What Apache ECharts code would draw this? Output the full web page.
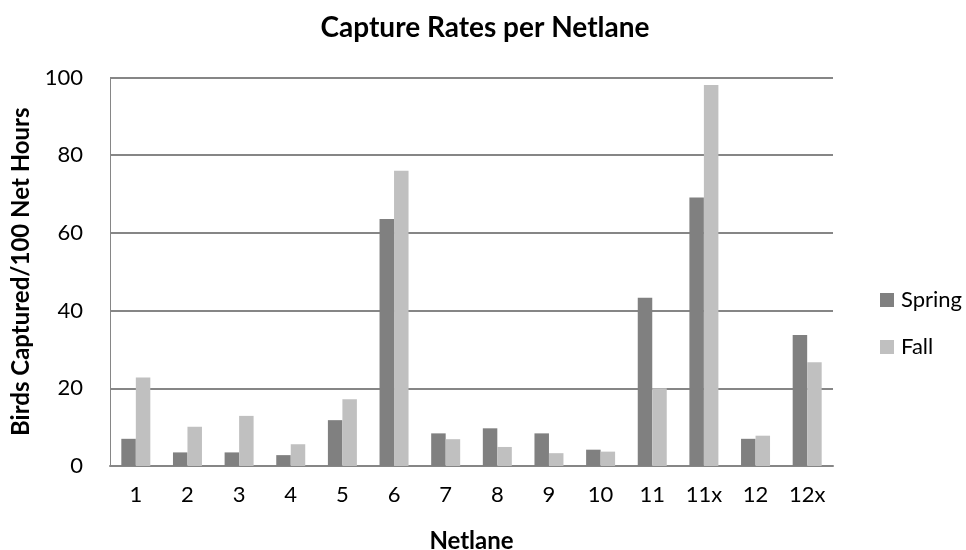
<!DOCTYPE html>
<html>
<head>
<meta charset="utf-8">
<script src="https://cdn.jsdelivr.net/npm/echarts@6/dist/echarts.min.js"></script>
<style>html,body{margin:0;padding:0;background:#fff;}#c{width:966px;height:550px;}</style>
</head>
<body>
<div id="c"></div>
<script>
const categories = ['1','2','3','4','5','6','7','8','9','10','11','11x','12','12x'];
const spring = [7.0, 3.5, 3.5, 2.8, 11.8, 63.6, 8.4, 9.7, 8.4, 4.2, 43.3, 69.1, 7.0, 33.7];
const fall = [22.8, 10.1, 12.9, 5.6, 17.2, 76.0, 6.9, 4.9, 3.3, 3.7, 20.0, 98.1, 7.8, 26.7];
const yTicks = [0, 20, 40, 60, 80, 100];

const FONT = 'Lato, "Open Sans", sans-serif';
const chart = echarts.init(document.getElementById('c'));
chart.setOption({
  animation: false,
  backgroundColor: '#fff',
  textStyle: { fontFamily: FONT, color: '#000' },
  title: {
    text: 'Capture Rates per Netlane',
    left: 480, top: 9, textAlign: 'center',
    textStyle: { fontFamily: FONT, fontSize: 28, fontWeight: 'bold', color: '#000' }
  },
  legend: {
    orient: 'vertical',
    left: 875, top: 284,
    itemWidth: 14, itemHeight: 14, itemGap: 25,
    icon: 'rect',
    textStyle: { fontFamily: FONT, fontSize: 22, color: '#000', padding: [0, 0, 0, 2] },
    data: ['Spring', 'Fall']
  },
  grid: { left: 110, right: 133, top: 77.5, bottom: 84, containLabel: false, outerBoundsMode: 'none' },
  xAxis: {
    type: 'category',
    data: categories,
    name: 'Netlane',
    nameLocation: 'middle',
    nameGap: 63,
    nameTextStyle: { fontFamily: FONT, fontSize: 24, fontWeight: 'bold', color: '#000' },
    axisLine: { lineStyle: { color: '#868686', width: 2 } },
    axisTick: { show: false },
    axisLabel: { fontFamily: FONT, fontSize: 22, color: '#000', margin: 18 }
  },
  yAxis: {
    type: 'value',
    min: yTicks[0], max: yTicks[yTicks.length - 1], interval: 20,
    name: 'Birds Captured/100 Net Hours',
    nameLocation: 'middle',
    nameGap: 77,
    nameTextStyle: { fontFamily: FONT, fontSize: 24, fontWeight: 'bold', color: '#000' },
    axisLine: { show: true, lineStyle: { color: '#868686', width: 1 } },
    axisTick: { show: false },
    axisLabel: { fontFamily: FONT, fontSize: 22, color: '#000', margin: 27 },
    splitLine: { lineStyle: { color: '#868686', width: 2 } }
  },
  series: [
    { name: 'Spring', type: 'bar', data: spring, barWidth: 14.5, barGap: '0%',
      itemStyle: { color: '#808080' } },
    { name: 'Fall', type: 'bar', data: fall, barWidth: 14.5, barGap: '0%',
      itemStyle: { color: '#c0c0c0' } }
  ]
});
</script>
</body>
</html>
